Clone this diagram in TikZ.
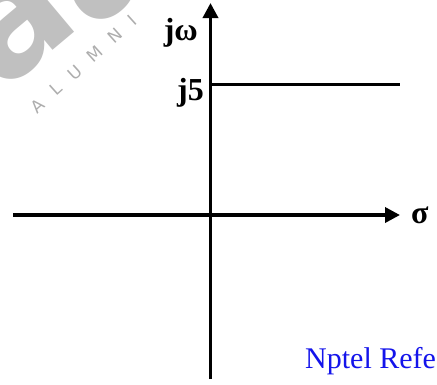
\documentclass[tikz,border=0pt]{standalone}
\usepackage{fontspec}
\setmainfont{Liberation Serif}
\newfontfamily\wmfont{DejaVu Sans}
\usetikzlibrary{arrows.meta}
\definecolor{wmgray}{RGB}{192,192,192}
\definecolor{nptelblue}{RGB}{20,20,235}
\tikzset{
  axis/.style={line width=3.5pt,-{Triangle[length=15pt,width=15pt]}},
  plainline/.style={line width=3.5pt},
  lbl/.style={inner sep=0pt,font=\fontsize{32}{32}\selectfont\bfseries},
  bigwm/.style={inner sep=0pt,text=wmgray,rotate=40,font=\wmfont\bfseries\fontsize{160}{160}\selectfont},
  wm/.style={inner sep=0pt,text=wmgray!90!black,font=\wmfont\fontsize{17}{17}\selectfont}
}
\begin{document}
\begin{tikzpicture}[x=1pt,y=-1pt]
\useasboundingbox (0,0) rectangle (437,384);
\clip (0,0) rectangle (437,384);
% watermark
\node[bigwm] (wmA) at (15,25) {a};
\node[bigwm] (wmB) at (105,-35) {a};
\node[wm,rotate=42] (wmtext) at (84,64) {A\hspace{14pt}L\hspace{14pt}U\hspace{14pt}M\hspace{14pt}N\hspace{14pt}I};
% axes
\coordinate (vb) at (210.5,379);
\coordinate (vt) at (210.5,3);
\coordinate (hl) at (13,215);
\coordinate (hr) at (400,215);
\coordinate (j5a) at (210.5,84.7);
\coordinate (j5b) at (400,84.7);
\draw[axis] (vb) -- (vt);
\draw[axis] (hl) -- (hr);
\draw[plainline] (j5a) -- (j5b);
% labels
\node[lbl,anchor=base east] (jw) at (198,40) {jω};
\node[lbl,anchor=base east] (j5) at (204,100) {j5};
\node[lbl,anchor=base west] (sig) at (411,223) {σ};
\node[inner sep=0pt,anchor=base west,text=nptelblue,font=\fontsize{30}{30}\selectfont] (nptel) at (305,368) {Nptel Refe};
\end{tikzpicture}
\end{document}
